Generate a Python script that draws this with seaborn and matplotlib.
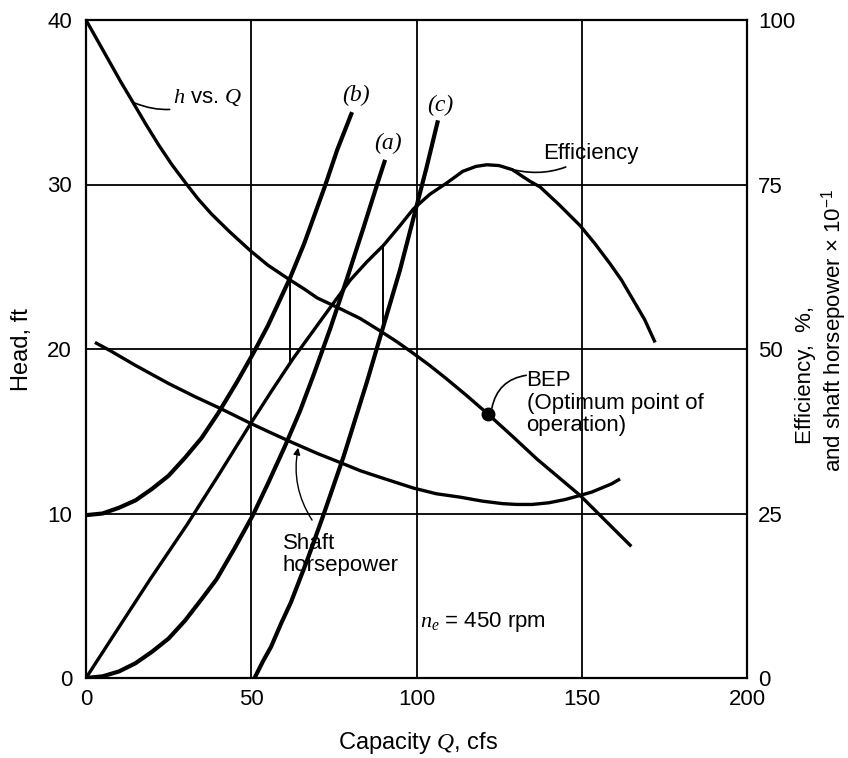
import matplotlib
matplotlib.use("Agg")
import matplotlib.pyplot as plt
import seaborn as sns

# curvas (Q en cfs, valores en unidades de carga, ft)
hq_q = [0, 3.5, 7, 10.5, 14.2, 18, 22, 26, 30.5, 34, 38, 43.6, 49.6, 55, 61.7, 66, 70, 76.9, 83, 89,
        94, 98.6, 104, 109, 115, 121.6, 129, 136.5, 143, 149.5, 157, 165]
hq_h = [40, 38.75, 37.5, 36.25, 35.0, 33.7, 32.4, 31.2, 30.0, 29.1, 28.2, 27.1, 26.0, 25.1, 24.2, 23.65,
        23.1, 22.45, 21.85, 21.1, 20.45, 19.8, 19.0, 18.2, 17.2, 16.05, 14.7, 13.3, 12.2, 11.1, 9.6, 8.0]

eff_q = [0, 10, 19.4, 30.5, 40, 49.6, 56, 62.6, 72, 80, 85, 90, 95, 99, 104, 109.2, 114, 118, 121.3,
         125, 129, 134.3, 137.4, 143, 149.5, 154, 158.5, 162, 165.5, 169, 172.2]
eff_h = [0, 3.1, 6.0, 9.3, 12.3, 15.4, 17.4, 19.4, 22.0, 24.2, 25.3, 26.3, 27.5, 28.5, 29.4, 30.1, 30.8,
         31.1, 31.2, 31.15, 30.9, 30.2, 29.85, 28.8, 27.5, 26.4, 25.2, 24.2, 23.0, 21.8, 20.4]

shp_q = [2.7, 7.3, 15, 25, 33, 40.5, 49.6, 56, 62.6, 70, 76.9, 83, 89, 99, 106, 113, 120, 126, 130.4,
         135, 140, 145, 149.5, 153, 156, 159, 161.6]
shp_h = [20.4, 19.9, 19.0, 17.9, 17.1, 16.4, 15.5, 14.9, 14.3, 13.65, 13.1, 12.6, 12.2, 11.55, 11.2, 11.0,
         10.75, 10.6, 10.55, 10.55, 10.65, 10.85, 11.1, 11.3, 11.55, 11.8, 12.1]

a_q = [0, 5, 10, 15, 20, 25, 30, 35, 39.5, 45, 50.5, 55, 60, 64.7, 69, 74, 79, 84, 88.4, 90.5]
a_h = [0, 0.1, 0.4, 0.9, 1.6, 2.4, 3.5, 4.8, 6.0, 7.9, 9.9, 11.8, 14.0, 16.2, 18.5, 21.3, 24.3, 27.4, 30.2, 31.5]

b_q = [0, 5, 10, 15, 20, 25, 30, 35, 40, 45.7, 50.5, 55, 58.7, 61.7, 66, 72.3, 76, 80.5]
b_h = [9.9, 10.0, 10.35, 10.8, 11.5, 12.3, 13.4, 14.6, 16.1, 18.0, 19.7, 21.4, 23.0, 24.3, 26.4, 29.9, 32.1, 34.4]

c_q = [51, 53.5, 56, 59, 62, 67, 72, 78, 85, 90, 95, 99, 103, 106.5]
c_h = [0, 1.0, 1.9, 3.3, 4.6, 7.2, 10.0, 13.5, 18.0, 21.4, 24.8, 27.9, 31.0, 33.9]

# lineas verticales entre curvas
conn_q = [61.7, 90]
conn_bottom = [19.1, 21.1]
conn_top = [24.2, 26.3]

bep_q, bep_h = 121.6, 16.05

x_ticks = [0, 50, 100, 150, 200]
left_ticks = [0, 10, 20, 30, 40]
right_ticks = [0, 25, 50, 75, 100]

sns.set_theme(style="white")
plt.rcParams["font.family"] = ["Liberation Sans", "DejaVu Sans"]
plt.rcParams["text.color"] = "black"
plt.rcParams["mathtext.fontset"] = "custom"
plt.rcParams["mathtext.it"] = "Liberation Serif:italic"
plt.rcParams["mathtext.rm"] = "Liberation Sans"

fig = plt.figure(figsize=(8.48, 7.58), dpi=100)
ax = fig.add_axes([86 / 848, 80 / 758, 661 / 848, 658 / 758])

for q, h, lw in [(hq_q, hq_h, 2.4), (eff_q, eff_h, 2.4), (shp_q, shp_h, 2.4),
                 (a_q, a_h, 3.0), (b_q, b_h, 3.0), (c_q, c_h, 3.0)]:
    sns.lineplot(x=q, y=h, ax=ax, color="black", lw=lw, sort=False, estimator=None,
                 solid_joinstyle="round", solid_capstyle="butt")

ax.vlines(conn_q, conn_bottom, conn_top, color="black", lw=1.4)
ax.plot([bep_q], [bep_h], "o", color="black", ms=9)

ax.set_xlim(0, 200)
ax.set_ylim(0, 40)
ax.set_xticks(x_ticks)
ax.set_yticks(left_ticks)
ax.tick_params(length=0, labelsize=16, colors="black")
ax.tick_params(axis="x", pad=8)
ax.tick_params(axis="y", pad=10)
ax.grid(True, color="black", lw=1.3)
for s in ax.spines.values():
    s.set_color("black")
    s.set_linewidth(1.6)
ax.set_xlabel("")
ax.set_ylabel("")

ax2 = ax.twinx()
ax2.set_ylim(0, 100)
ax2.set_yticks(right_ticks)
ax2.tick_params(length=0, labelsize=16, colors="black", pad=8)
for s in ax2.spines.values():
    s.set_visible(False)

# textos
fs = 16
ax.annotate("$h$ vs. $Q$", xy=(14.8, 34.95), xytext=(26.3, 35.3), fontsize=fs, va="center",
            arrowprops=dict(arrowstyle="-", color="black", lw=1.2, shrinkA=0, shrinkB=0,
                            connectionstyle="arc3,rad=-0.25"))
ax.annotate("Efficiency", xy=(127.4, 31.0), xytext=(138.3, 31.9), fontsize=fs, va="center",
            arrowprops=dict(arrowstyle="-", color="black", lw=1.2, shrinkA=0, shrinkB=0,
                            connectionstyle="arc3,rad=-0.25"))
ax.text(133.3, 16.7, "BEP\n(Optimum point of\noperation)", fontsize=fs, va="center", ha="left",
        linespacing=1.1)
ax.annotate("", xy=(122.8, 16.4), xytext=(133.2, 18.4),
            arrowprops=dict(arrowstyle="-", color="black", lw=1.2, shrinkA=0, shrinkB=0,
                            connectionstyle="arc3,rad=0.35"))
ax.text(59.6, 7.5, "Shaft\nhorsepower", fontsize=fs, va="center", ha="left", linespacing=1.1)
ax.annotate("", xy=(64.2, 14.0), xytext=(68.4, 9.6),
            arrowprops=dict(arrowstyle="-|>", color="black", lw=1.0, shrinkA=0, shrinkB=0,
                            mutation_scale=10, connectionstyle="arc3,rad=-0.2"))
ax.text(101, 3.4, "$n_e$ = 450 rpm", fontsize=fs, va="center", ha="left")

for lab, q, h in [("(b)", 81.7, 35.4), ("(a)", 91.4, 32.5), ("(c)", 107.1, 34.8)]:
    ax.text(q, h, lab, fontsize=17, ha="center", va="center", family="Liberation Serif", style="italic")

fig.text(22 / 848, 1 - 350 / 758, "Head, ft", rotation=90, fontsize=17, ha="center", va="center")
fig.text(418 / 848, 1 - 743 / 758, "Capacity $Q$, cfs", fontsize=17, ha="center", va="center")
fig.text(806 / 848, 1 - 375 / 758, "Efficiency,  %,", rotation=90, fontsize=16, ha="center", va="center")
fig.text(834 / 848, 1 - 330 / 758, "and shaft horsepower \u00d7 10$^{\u22121}$", rotation=90,
         fontsize=16, ha="center", va="center")

fig.savefig("out.png", dpi=100)
